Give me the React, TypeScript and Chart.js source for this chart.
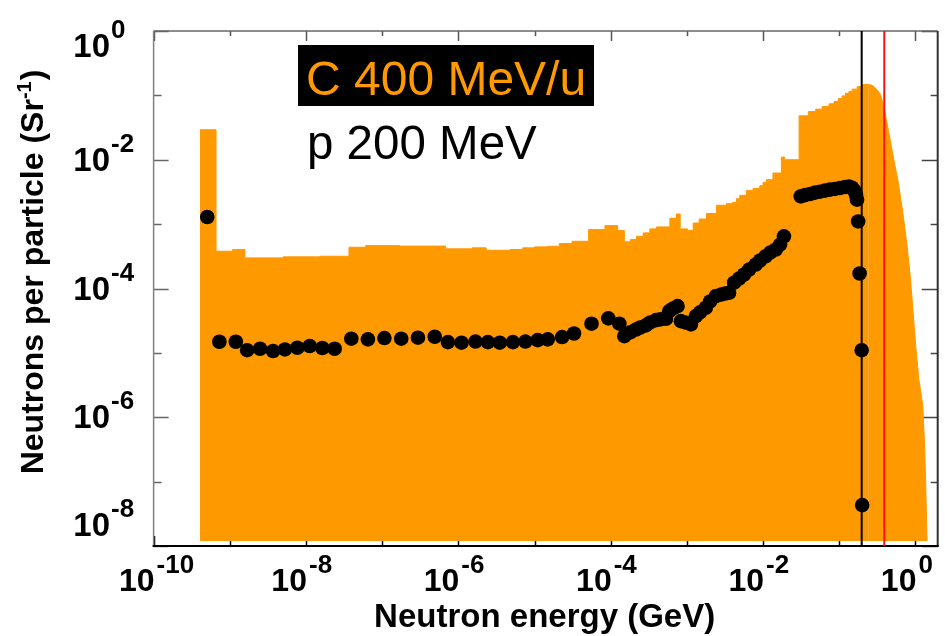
import React, { useEffect, useRef } from "react";
import { Chart, registerables } from "chart.js";

Chart.register(...registerables);

// ---------- data ----------
// Carbon 400 MeV/u neutron spectrum, histogram part: bin edges (GeV) and contents
const histEdges = [
  4.05e-10, 6.6e-10, 1.09e-9, 1.58e-9, 5.0e-9, 1.52e-8, 3.67e-8, 6.08e-8, 1.69e-7, 6.79e-7,
  1.52e-6, 2.32e-6, 4.79e-6, 7.0e-6, 1.0e-5, 1.49e-5, 2.12e-5, 3.11e-5, 5.13e-5, 8.41e-5,
  1.23e-4, 1.51e-4, 1.81e-4, 2.18e-4, 2.67e-4, 3.27e-4, 4.0e-4, 5.98e-4, 7.31e-4, 8.17e-4,
  1.02e-3, 1.21e-3, 1.45e-3, 1.81e-3, 2.44e-3, 3.3e-3, 3.96e-3, 4.47e-3, 4.95e-3, 6.04e-3,
  7.4e-3, 9.06e-3, 1.0e-2, 1.1e-2, 1.35e-2, 1.74e-2, 1.92e-2, 2.97e-2, 3.93e-2, 4.91e-2,
  5.98e-2, 7.33e-2, 8.53e-2, 9.7e-2, 0.109, 0.121, 0.134, 0.148, 0.172, 0.2, 0.245,
];
const histValues = [
  2.92e-2, 3.79e-4, 4.03e-4, 2.99e-4, 3.1e-4, 3.17e-4, 4.37e-4, 4.64e-4, 4.56e-4, 4.13e-4,
  4.28e-4, 3.93e-4, 4.03e-4, 4.28e-4, 4.43e-4, 4.53e-4, 4.99e-4, 5.41e-4, 8.22e-4, 9.48e-4,
  7.93e-4, 5.3e-4, 5.75e-4, 6.47e-4, 7.31e-4, 8.43e-4, 9.05e-4, 1.23e-3, 1.44e-3, 8.43e-4,
  7.93e-4, 1.04e-3, 1.2e-3, 1.46e-3, 1.96e-3, 2.08e-3, 2.18e-3, 2.48e-3, 2.8e-3, 3.34e-3,
  3.59e-3, 3.95e-3, 4.45e-3, 4.9e-3, 6.22e-3, 1.1e-2, 1.0e-2, 4.81e-2, 5.61e-2, 6.11e-2,
  6.71e-2, 7.38e-2, 8.01e-2, 8.92e-2, 9.82e-2, 0.108, 0.115, 0.125, 0.137, 0.147,
];
// Carbon spectrum, high-energy fall-off
const tailEnergy = [
  0.245, 0.27, 0.315, 0.349, 0.385, 0.449, 0.521, 0.587, 0.684, 0.778, 0.863, 0.933, 1.01,
  1.11, 1.25, 1.32, 1.36, 1.42,
];
const tailValues = [
  0.147, 0.144, 0.122, 0.102, 6.71e-2, 2.59e-2, 1.0e-2, 4.9e-3, 1.51e-3, 4.53e-4, 1.38e-4,
  4.25e-5, 1.27e-5, 3.88e-6, 1.5e-6, 3.59e-7, 1.09e-7, 1.21e-8,
];
// Proton 200 MeV spectrum (points)
const protonEnergy = [
  5.06e-10, 7.3e-10, 1.2e-9, 1.69e-9, 2.5e-9, 3.7e-9, 5.3e-9, 7.7e-9, 1.12e-8, 1.64e-8,
  2.38e-8, 3.94e-8, 6.5e-8, 1.07e-7, 1.78e-7, 2.95e-7, 4.9e-7, 7.3e-7, 1.1e-6, 1.68e-6,
  2.44e-6, 3.5e-6, 5.2e-6, 7.6e-6, 1.1e-5, 1.49e-5, 2.3e-5, 3.3e-5, 5.6e-5, 9.3e-5,
  1.3e-4, 1.51e-4, 1.81e-4, 2.15e-4, 2.44e-4, 2.9e-4, 3.3e-4, 3.93e-4, 4.47e-4, 5.31e-4,
  5.86e-4, 6.62e-4, 7.54e-4, 8.34e-4, 9.51e-4, 1.13e-3, 1.31e-3, 1.49e-3, 1.77e-3, 2.02e-3,
  2.4e-3, 2.82e-3, 3.18e-3, 3.58e-3, 4.17e-3, 4.86e-3, 5.64e-3, 6.56e-3, 8.02e-3, 9.14e-3,
  1.08e-2, 1.24e-2, 1.47e-2, 1.67e-2, 1.88e-2, 3.12e-2, 3.55e-2, 4.13e-2, 4.8e-2, 5.58e-2,
  6.49e-2, 7.55e-2, 8.77e-2, 0.102, 0.119, 0.134, 0.147, 0.158, 0.166, 0.171, 0.177,
  0.185, 0.197, 0.2,
];
const protonValues = [
  1.29e-3, 1.49e-5, 1.49e-5, 1.1e-5, 1.16e-5, 1.07e-5, 1.13e-5, 1.2e-5, 1.28e-5, 1.19e-5,
  1.16e-5, 1.66e-5, 1.62e-5, 1.7e-5, 1.66e-5, 1.72e-5, 1.78e-5, 1.47e-5, 1.44e-5, 1.5e-5,
  1.47e-5, 1.44e-5, 1.47e-5, 1.5e-5, 1.58e-5, 1.62e-5, 1.76e-5, 2.0e-5, 2.84e-5, 3.43e-5,
  2.84e-5, 1.82e-5, 2.08e-5, 2.31e-5, 2.48e-5, 2.67e-5, 2.97e-5, 3.23e-5, 3.31e-5, 3.39e-5,
  4.45e-5, 4.9e-5, 5.32e-5, 3.11e-5, 2.97e-5, 2.77e-5, 3.72e-5, 4.25e-5, 5.02e-5, 6.29e-5,
  7.6e-5, 8.07e-5, 8.36e-5, 8.57e-5, 1.23e-4, 1.43e-4, 1.65e-4, 1.97e-4, 2.36e-4, 2.72e-4,
  3.17e-4, 3.61e-4, 4.03e-4, 4.81e-4, 6.47e-4, 2.7e-3, 2.82e-3, 2.94e-3, 3.08e-3, 3.19e-3,
  3.31e-3, 3.43e-3, 3.52e-3, 3.64e-3, 3.77e-3, 3.85e-3, 3.68e-3, 3.31e-3, 2.87e-3, 2.4e-3,
  1.1e-3, 1.71e-4, 1.1e-5, 4.32e-8,
];
// Beam energies marked by vertical lines (GeV)
const protonBeamEnergy = [0.197];
const carbonBeamEnergy = [0.39];
// Axis decades
const xDecades = [-10, -9, -8, -7, -6, -5, -4, -3, -2, -1, 0];
const yDecades = [0, -1, -2, -3, -4, -5, -6, -7, -8];
const xLabelDecades = [-10, -8, -6, -4, -2, 0];
const yLabelDecades = [0, -2, -4, -6, -8];

const X_MIN = 1e-10;
const X_MAX = 1.96;
const Y_MIN = 1e-8;
const Y_MAX = 1;
const FILL_BASE = 1.2e-8;

const ORANGE = "#ff9900";
const FONT = '"Liberation Sans", Arial, Helvetica, sans-serif';

const framePlugin = {
  id: "frameTicks",
  beforeDatasetsDraw(chart: any) {
    const { ctx, chartArea: a, scales } = chart;
    const xs = scales.x;
    const ys = scales.y;
    ctx.save();
    ctx.lineCap = "butt";
    ctx.lineWidth = 1.5;
    xDecades.forEach((d) => {
      const px = Math.round(xs.getPixelForValue(Math.pow(10, d))) + 0.5;
      const major = d % 2 === 0;
      ctx.strokeStyle = "#000";
      ctx.beginPath();
      ctx.moveTo(px, a.bottom);
      ctx.lineTo(px, a.bottom - (major ? 10 : 5));
      ctx.stroke();
      ctx.strokeStyle = "#555";
      ctx.beginPath();
      ctx.moveTo(px, a.top);
      ctx.lineTo(px, a.top + (major ? 10 : 5));
      ctx.stroke();
    });
    yDecades.forEach((d) => {
      const py = Math.round(ys.getPixelForValue(Math.pow(10, d))) + 0.5;
      const major = d % 2 === 0;
      ctx.strokeStyle = "#666";
      ctx.beginPath();
      ctx.moveTo(a.left, py);
      ctx.lineTo(a.left + (major ? 15 : 8), py);
      ctx.stroke();
      ctx.strokeStyle = "#444";
      ctx.beginPath();
      ctx.moveTo(a.right, py);
      ctx.lineTo(a.right - (major ? 16 : 7), py);
      ctx.stroke();
    });
    ctx.lineWidth = 1.5;
    ctx.strokeStyle = "#666";
    ctx.beginPath();
    ctx.moveTo(a.left, a.top);
    ctx.lineTo(a.right, a.top);
    ctx.stroke();
    ctx.strokeStyle = "#333";
    ctx.lineWidth = 2;
    ctx.beginPath();
    ctx.moveTo(a.right, a.top);
    ctx.lineTo(a.right, a.bottom);
    ctx.stroke();
    ctx.strokeStyle = "#808080";
    ctx.lineWidth = 1.5;
    ctx.beginPath();
    ctx.moveTo(a.left, a.top);
    ctx.lineTo(a.left, a.bottom);
    ctx.stroke();
    ctx.strokeStyle = "#000";
    ctx.lineWidth = 2;
    ctx.beginPath();
    ctx.moveTo(a.left - 1, a.bottom);
    ctx.lineTo(a.right + 1, a.bottom);
    ctx.stroke();
    ctx.restore();
  },
  afterDraw(chart: any) {
    const { ctx, chartArea: a, scales } = chart;
    const xs = scales.x;
    const ys = scales.y;
    ctx.save();
    ctx.fillStyle = "#000";
    ctx.textBaseline = "alphabetic";
    // x tick labels
    xLabelDecades.forEach((d) => {
      const px = xs.getPixelForValue(Math.pow(10, d));
      ctx.font = `bold 32px ${FONT}`;
      ctx.textAlign = "right";
      ctx.fillText("10", px + 1, 591);
      ctx.font = `bold 26px ${FONT}`;
      ctx.textAlign = "left";
      ctx.fillText(String(d), px + 3, 573);
    });
    // y tick labels
    yLabelDecades.forEach((d) => {
      let py = ys.getPixelForValue(Math.pow(10, d));
      py = Math.max(py, a.top + 15);
      py = Math.min(py, a.bottom - 21);
      ctx.font = `bold 33px ${FONT}`;
      ctx.textAlign = "right";
      ctx.fillText("10", 110, py + 11);
      ctx.font = `bold 26px ${FONT}`;
      ctx.textAlign = "left";
      ctx.fillText(String(d), 111, py - 8);
    });
    // x title
    ctx.font = `bold 33px ${FONT}`;
    ctx.textAlign = "center";
    ctx.fillText("Neutron energy (GeV)", (a.left + a.right) / 2 - 1, 627);
    // y title (rotated, with superscript)
    ctx.save();
    ctx.translate(43, 272);
    ctx.rotate(-Math.PI / 2);
    const t1 = "Neutrons per particle (Sr";
    const t2 = "-1";
    const t3 = ")";
    const f1 = `bold 32px ${FONT}`;
    const f2 = `bold 20px ${FONT}`;
    ctx.font = f1;
    const w1 = ctx.measureText(t1).width;
    const w3 = ctx.measureText(t3).width;
    ctx.font = f2;
    const w2 = ctx.measureText(t2).width;
    let sx = -(w1 + w2 + w3 + 1) / 2;
    ctx.textAlign = "left";
    ctx.font = f1;
    ctx.fillText(t1, sx, 0);
    sx += w1;
    ctx.font = f2;
    ctx.fillText(t2, sx, -12);
    sx += w2 + 1;
    ctx.font = f1;
    ctx.fillText(t3, sx, 0);
    ctx.restore();
    // annotation labels
    ctx.fillStyle = "#000";
    ctx.fillRect(298, 45, 296, 61);
    ctx.textAlign = "left";
    ctx.font = `48px ${FONT}`;
    ctx.fillStyle = ORANGE;
    ctx.fillText("C 400 MeV/u", 306, 95);
    ctx.font = `47.5px ${FONT}`;
    ctx.fillStyle = "#000";
    ctx.fillText("p 200 MeV", 307, 159);
    ctx.restore();
  },
};

export default function App() {
  const ref = useRef<HTMLCanvasElement | null>(null);
  useEffect(() => {
    document.body.style.margin = "0";
    const canvas = ref.current;
    if (!canvas) return;
    const n = histValues.length;
    const histPts = histEdges.map((e, i) => ({ x: e, y: histValues[Math.min(i, n - 1)] }));
    const tailPts = tailEnergy.map((e, i) => ({ x: e, y: tailValues[i] }));
    const protonPts = protonEnergy.map((e, i) => ({ x: e, y: protonValues[i] }));
    const vline = (e: number) => [
      { x: e, y: Y_MIN },
      { x: e, y: Y_MAX },
    ];
    const chart = new Chart(canvas, {
      type: "line",
      data: {
        datasets: [
          {
            label: "p 200 MeV",
            data: protonPts,
            showLine: false,
            pointRadius: 7.3,
            pointBackgroundColor: "#000",
            pointBorderColor: "#000",
            pointBorderWidth: 0,
            order: 1,
          },
          {
            label: "p beam",
            data: vline(protonBeamEnergy[0]),
            borderColor: "#000",
            borderWidth: 2,
            pointRadius: 0,
            fill: false,
            order: 2,
          },
          {
            label: "C beam",
            data: vline(carbonBeamEnergy[0]),
            borderColor: "#ff1010",
            borderWidth: 2,
            pointRadius: 0,
            fill: false,
            order: 3,
          },
          {
            label: "C tail",
            data: tailPts,
            borderColor: ORANGE,
            backgroundColor: ORANGE,
            borderWidth: 1,
            pointRadius: 0,
            tension: 0,
            fill: { value: FILL_BASE },
            order: 4,
          },
          {
            label: "C 400 MeV/u",
            data: histPts,
            stepped: true,
            borderColor: ORANGE,
            backgroundColor: ORANGE,
            borderWidth: 1,
            pointRadius: 0,
            fill: { value: FILL_BASE },
            order: 5,
          },
        ],
      } as any,
      options: {
        responsive: false,
        animation: false,
        devicePixelRatio: 1,
        layout: { padding: { left: 153.6, top: 31, right: 6, bottom: 90 } },
        scales: {
          x: { type: "logarithmic", min: X_MIN, max: X_MAX, display: false },
          y: { type: "logarithmic", min: Y_MIN, max: Y_MAX, display: false },
        },
        plugins: {
          legend: { display: false },
          tooltip: { enabled: false },
        },
      } as any,
      plugins: [framePlugin],
    });
    return () => chart.destroy();
  }, []);
  return (
    <div style={{ position: "absolute", left: 0, top: 0, width: 945, height: 636, background: "#fff" }}>
      <canvas ref={ref} width={945} height={636} />
    </div>
  );
}
